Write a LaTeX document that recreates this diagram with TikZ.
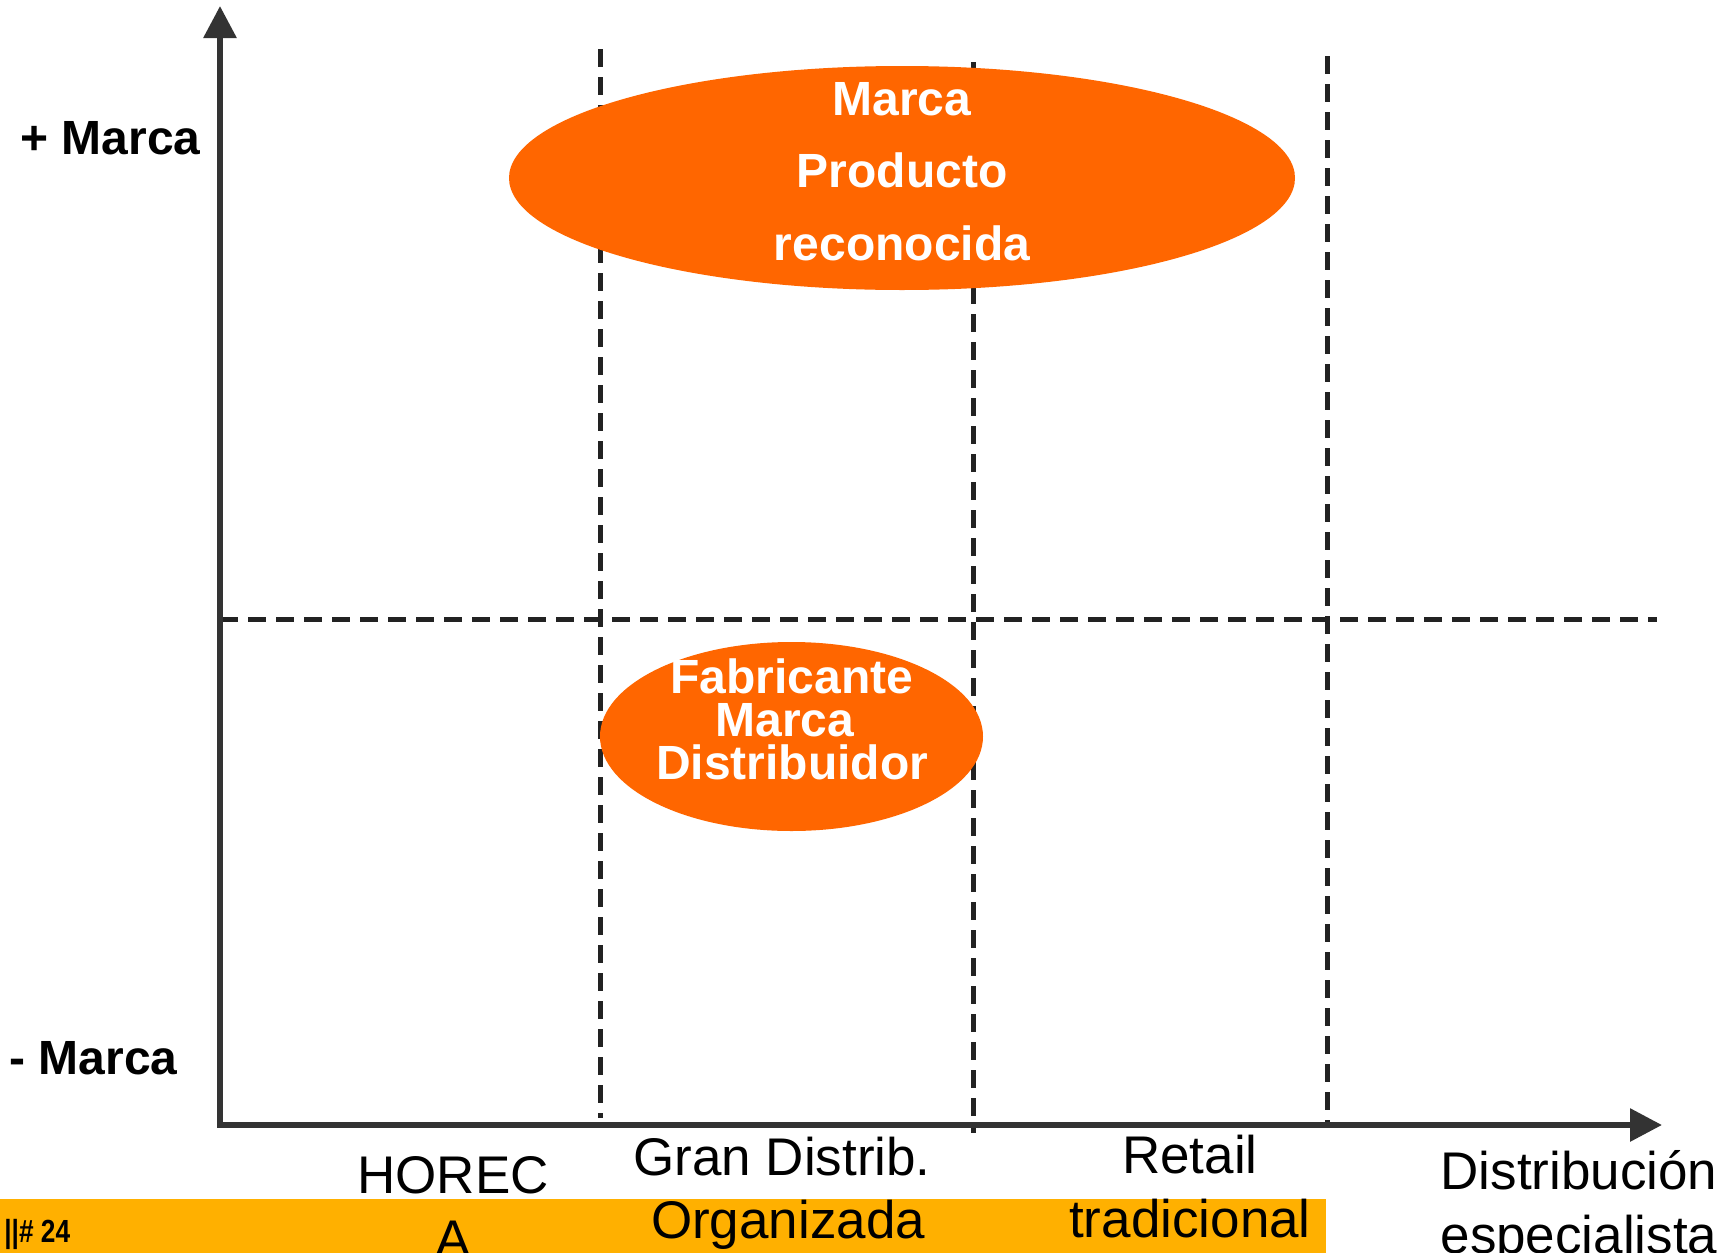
\documentclass[tikz,border=0pt]{standalone}
\usepackage{fontspec}
\setmainfont{Liberation Sans}
\usetikzlibrary{shapes.geometric,arrows.meta}
\definecolor{axisgray}{RGB}{51,51,51}
\definecolor{dashgray}{RGB}{34,34,34}
\definecolor{shadowgray}{RGB}{140,140,140}
\definecolor{orng}{RGB}{255,102,0}
\definecolor{amber}{RGB}{255,176,0}
\tikzset{axtip/.tip={Triangle[length=16pt,width=16pt]}}
\begin{document}
\begin{tikzpicture}[x=0.5pt,y=-0.5pt,
  axis/.style={draw=axisgray,line width=3pt,line join=miter},
  gridline/.style={draw=dashgray,line width=2.5pt,dash pattern=on 9pt off 5pt},
  gridshadow/.style={draw=shadowgray,line width=2.5pt,dash pattern=on 9pt off 5pt},
  blob/.style={ellipse,fill=orng,draw=none,inner sep=0pt},
  blobtext/.style={text=white,font=\fontsize{24}{29}\selectfont\bfseries,inner sep=0pt,anchor=base},
  side/.style={font=\fontsize{24}{29}\selectfont\bfseries,inner sep=0pt,anchor=base west},
  chan/.style={font=\fontsize{26.5}{32}\selectfont,inner sep=0pt,anchor=base}
]
\useasboundingbox (0,0) rectangle (1736,1253);
\clip (0,0) rectangle (1736,1253);
\fill[white] (0,0) rectangle (1736,1253);

% grid coordinates
\coordinate (v1t) at (600,49);   \coordinate (v1b) at (600,1118);
\coordinate (v2t) at (973,62);   \coordinate (v2b) at (973,1133);
\coordinate (v3t) at (1327,56);  \coordinate (v3b) at (1327,1125);
\coordinate (hl) at (220,619);   \coordinate (hr) at (1657,619);

\begin{scope}[xshift=-1pt,yshift=1pt]
\draw[gridshadow] (v1t) -- (v1b);
\draw[gridshadow] (v2t) -- (v2b);
\draw[gridshadow] (v3t) -- (v3b);
\draw[gridshadow] (hl) -- (hr);
\end{scope}
\draw[gridline] (v1t) -- (v1b);
\draw[gridline] (v2t) -- (v2b);
\draw[gridline] (v3t) -- (v3b);
\draw[gridline] (hl) -- (hr);

% axes
\coordinate (O) at (220,1125);
\coordinate (Ytip) at (220,6);
\coordinate (Xtip) at (1662,1125);
\draw[axis,axtip-axtip] (Ytip) -- (O) -- (Xtip);

% ellipses
\node[blob,minimum width=393pt,minimum height=112pt] (big) at (902,178) {};
\node[blob,minimum width=191.5pt,minimum height=94.5pt] (small) at (791.5,736.5) {};

\node[blobtext] (b1) at (902,115) {Marca};
\node[blobtext] (b2) at (902,187.5) {Producto};
\node[blobtext] (b3) at (902,260) {reconocida};

\node[blobtext] (s1) at (792,693) {Fabricante};
\node[blobtext] (s2) at (785,736) {Marca};
\node[blobtext] (s3) at (792,779) {Distribuidor};

% side labels
\node[side] (plus) at (20,154) {+ Marca};
\node[side] (minus) at (9,1074) {- Marca};

% bottom bar
\fill[amber] (0,1199) rectangle (1326,1253);
\node[font=\fontsize{16}{18}\selectfont\bfseries,inner sep=0pt,anchor=base west] (pg) at (4,1242) {\scalebox{0.82}[1]{||\# 24}};

% channel labels
\node[chan] (h1) at (453,1193) {HOREC};
\node[chan] (h2) at (453,1257) {A};
\node[chan] (g1) at (782,1175) {Gran Distrib.};
\node[chan] (g2) at (788,1238) {Organizada};
\node[chan] (r1) at (1190,1173) {Retail};
\node[chan] (r2) at (1190,1237) {tradicional};
\node[chan] (d1) at (1579,1189) {Distribución};
\node[chan] (d2) at (1579,1253) {especialista};
\end{tikzpicture}
\end{document}
